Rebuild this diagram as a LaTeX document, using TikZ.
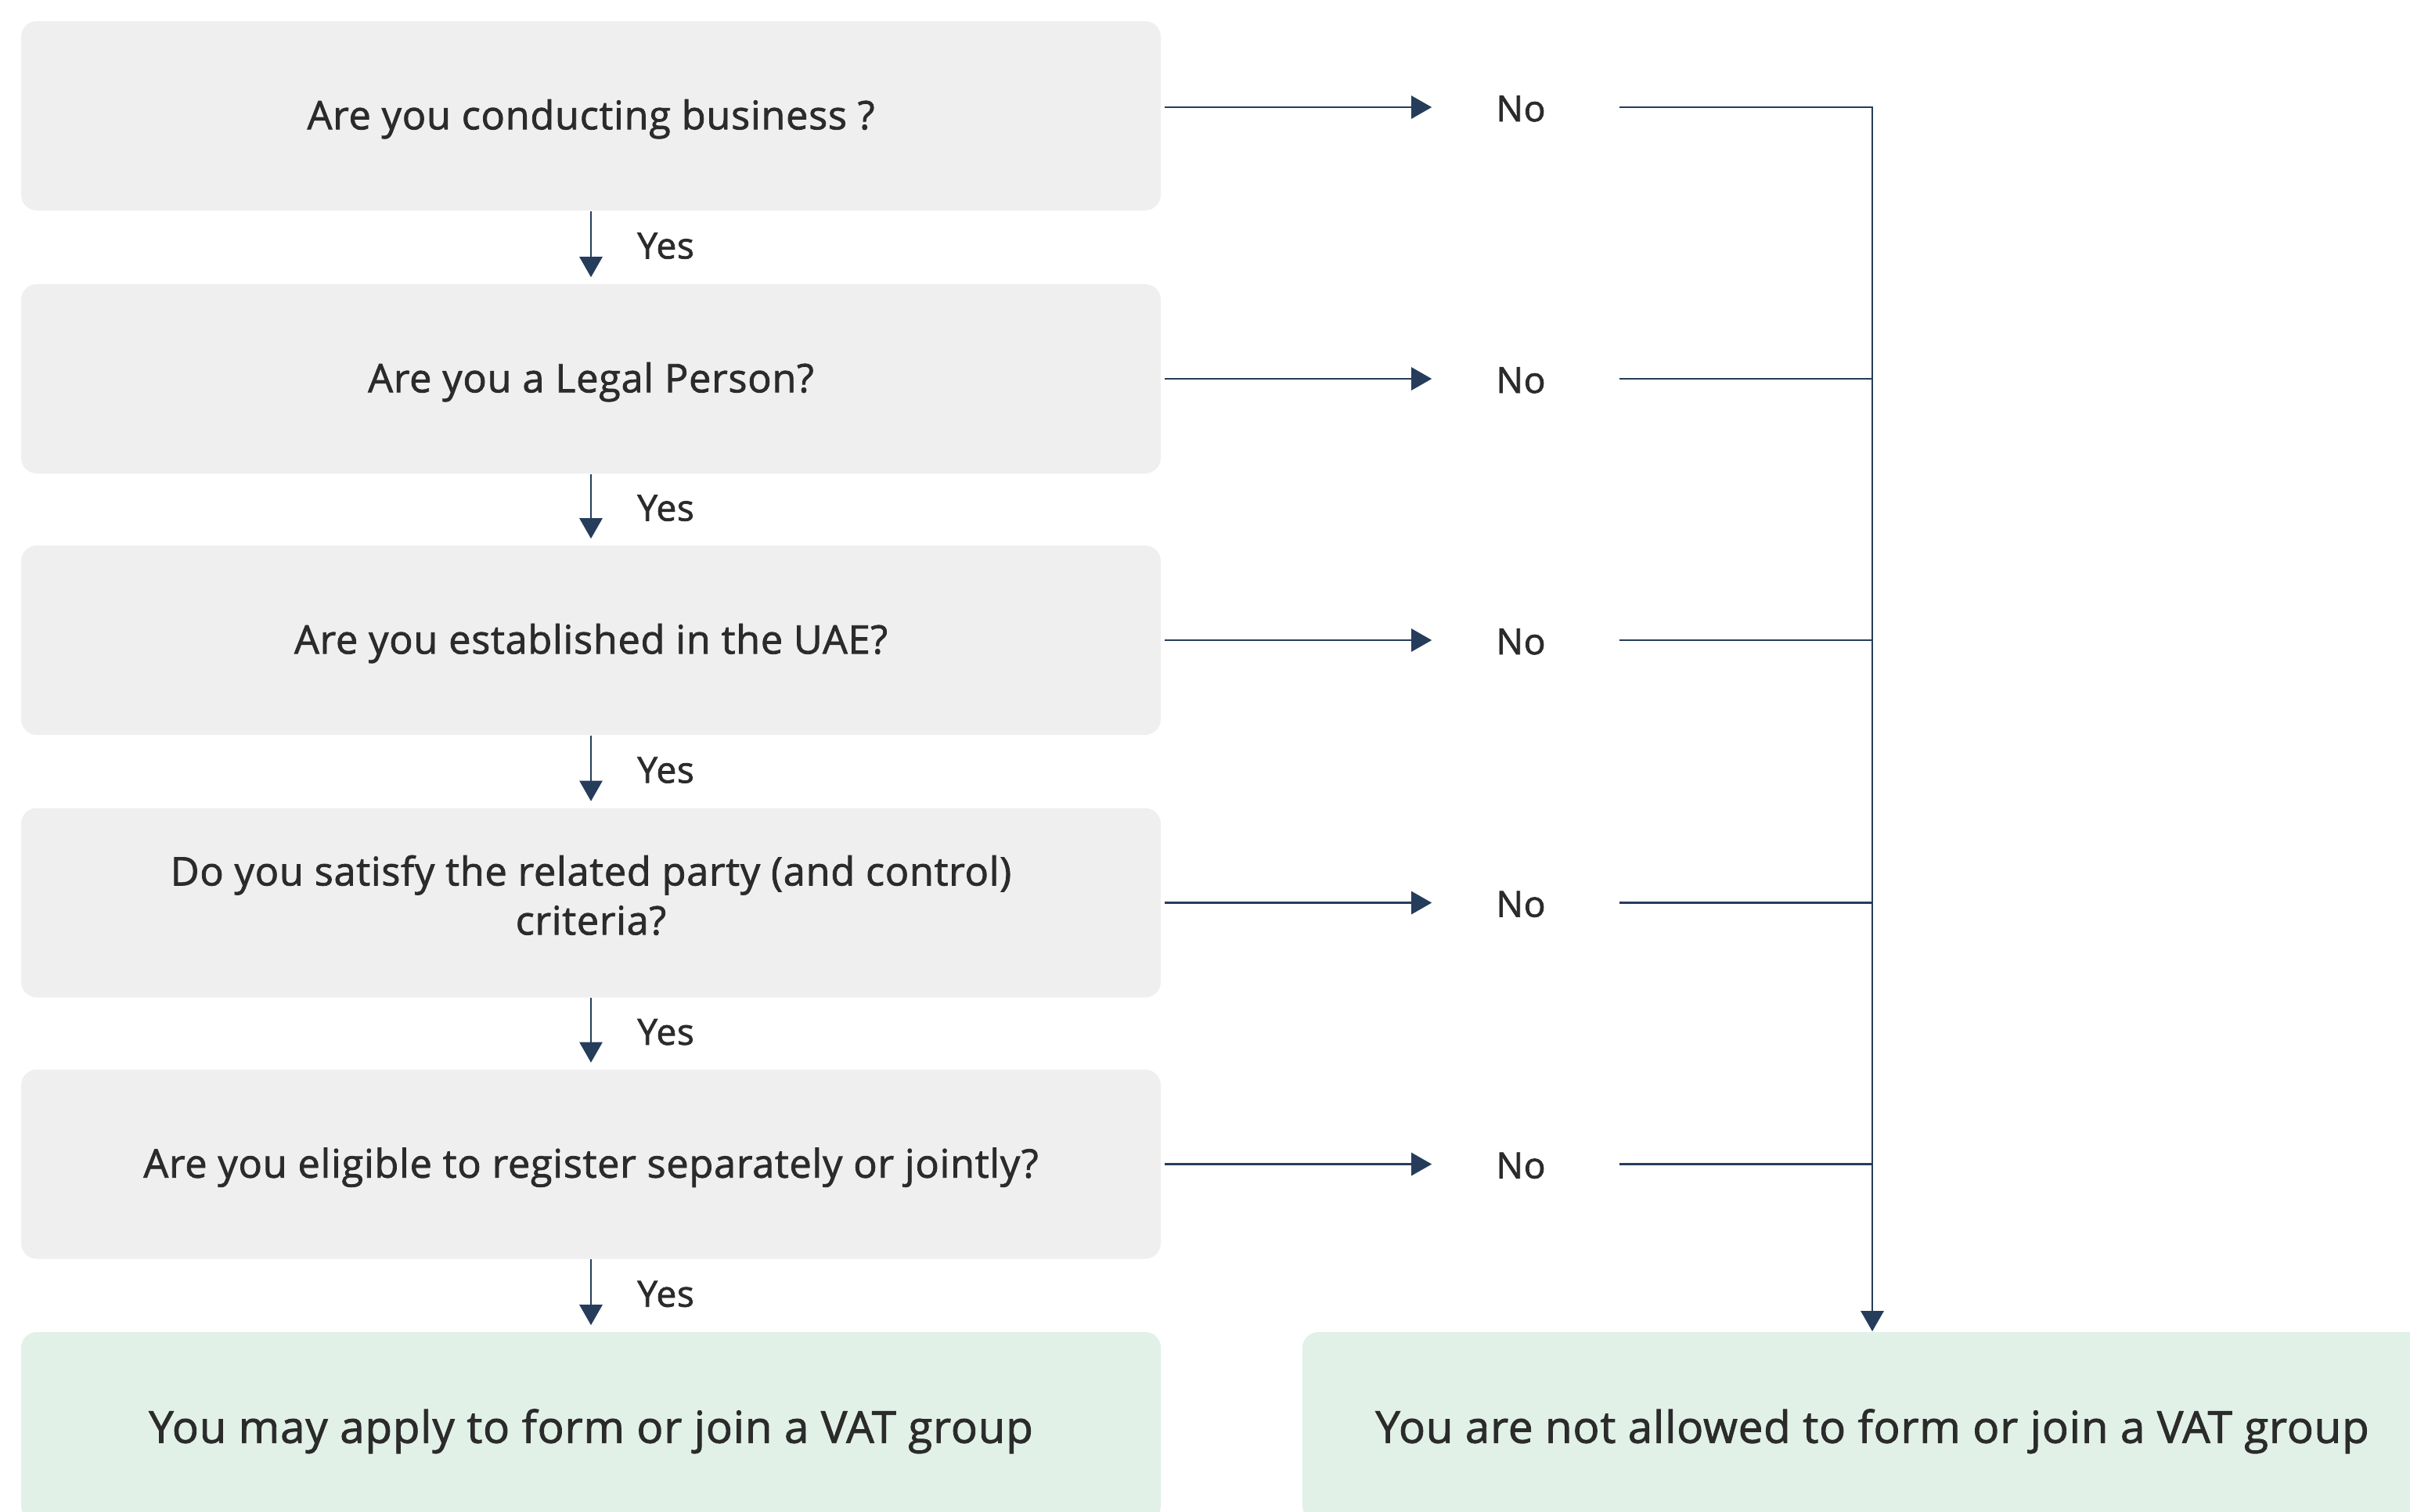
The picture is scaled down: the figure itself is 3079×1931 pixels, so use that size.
\documentclass[tikz,border=0pt]{standalone}
\usepackage{fontspec}
\setmainfont{Open Sans}[FakeBold=1.6, LetterSpace=1.5]
\usetikzlibrary{arrows.meta}
\definecolor{boxgray}{HTML}{EFEFEF}
\definecolor{boxgreen}{HTML}{E1F1E8}
\definecolor{navy}{HTML}{253D5B}
\definecolor{txt}{HTML}{2B2B2B}
\tikzset{
  qbox/.style={rectangle, rounded corners=5pt, fill=boxgray, minimum width=364pt, minimum height=60.5pt, text=txt, font=\fontsize{12.6}{15.7}\selectfont, align=center, inner sep=0pt},
  qline/.style={text height=12.3pt, text depth=3.7pt},
  rbox/.style={rectangle, rounded corners=5pt, fill=boxgreen, minimum width=364pt, minimum height=60.5pt, text=txt, font=\fontsize{14.1}{16}\selectfont, align=center, inner sep=0pt, text height=14pt, text depth=3.7pt},
  nolab/.style={text=txt, font=\fontsize{11.5}{13}\selectfont, minimum width=59.5pt, inner sep=0pt, text height=9pt, text depth=0pt},
  yeslab/.style={text=txt, font=\fontsize{11.5}{13}\selectfont, inner sep=0pt, text height=9.2pt, text depth=0pt},
  arr/.style={draw=navy, line width=0.65pt, -{Triangle[length=6.5pt, width=7.25pt]}},
  conn/.style={draw=navy, line width=0.6pt}
}
\begin{document}
\begin{tikzpicture}[x=0.25pt, y=-0.25pt]
\useasboundingbox (0,0) rectangle (3079,1931);
\clip (0,0) rectangle (3079,1931);
\node[qbox, qline] (q1) at (755,148) {Are you conducting business ?};
\node[qbox, qline] (q2) at (755,484) {Are you a Legal Person?};
\node[qbox, qline] (q3) at (755,818) {Are you established in the UAE?};
\node[qbox] (q4) at (755,1153.5) {Do you satisfy the related party (and control)\\criteria?\rule[-5pt]{0pt}{5pt}};
\node[qbox, qline] (q5) at (755,1487.5) {Are you eligible to register separately or jointly?};
\node[rbox] (yesres) at (755,1823) {You may apply to form or join a VAT group};
\node[rbox] (nores) at (2392,1823) {You are not allowed to form or join a VAT group};

\node[nolab] (n1) at (1943,137) {No};
\node[nolab] (n2) at (1943,484) {No};
\node[nolab] (n3) at (1943,818) {No};
\node[nolab] (n4) at (1943,1153.5) {No};
\node[nolab] (n5) at (1943,1487.5) {No};

\foreach \a/\b in {q1/q2,q2/q3,q3/q4,q4/q5,q5/yesres}{
  \draw[arr] (\a.south) -- ([yshift=2pt]\b.north) node[yeslab, midway, right, xshift=14.5pt] {Yes};
}
\foreach \q/\n in {q1/n1,q2/n2,q3/n3,q4/n4,q5/n5}{
  \draw[arr] ([xshift=1pt]\q.east |- \n.west) -- ([xshift=1.5pt]\n.west);
}
\draw[arr] ([xshift=1.5pt]n1.east) -| (nores.north);
\foreach \n in {n2,n3,n4,n5}{
  \draw[conn] ([xshift=1.5pt]\n.east) -- (\n.east -| nores.north);
}
\end{tikzpicture}
\end{document}
